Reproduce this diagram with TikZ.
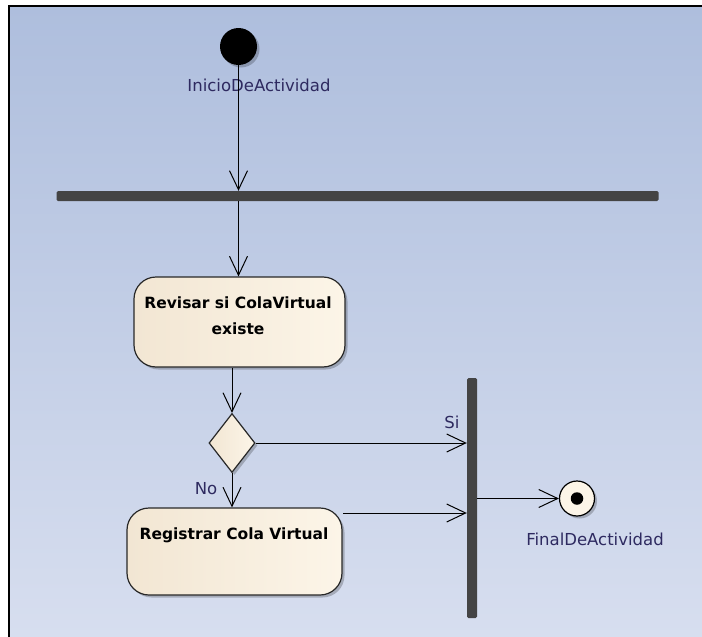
\documentclass[tikz,border=0pt]{standalone}
\usepackage{fontspec}
\setmainfont{DejaVu Sans}
\usetikzlibrary{arrows.meta,shapes.geometric,shadows}

\definecolor{bgtop}{RGB}{174,190,221}
\definecolor{bgbot}{RGB}{215,222,239}
\definecolor{barcol}{RGB}{68,68,68}
\definecolor{creamL}{RGB}{242,230,211}
\definecolor{creamR}{RGB}{252,245,232}
\definecolor{labelcol}{RGB}{46,42,96}
\definecolor{edgecol}{RGB}{40,40,40}

\begin{document}
\begin{tikzpicture}[x=1pt,y=-1pt,
  flow/.style={draw=black, line width=1pt,
    -{Straight Barb[length=19pt,width=18pt,line width=1pt]}},
  shadowed/.style={drop shadow={shadow xshift=2.5pt, shadow yshift=-2.5pt,
    fill=black, opacity=0.22}},
  actbox/.style={rectangle, rounded corners=22pt, draw=edgecol, line width=1.2pt,
    left color=creamL, right color=creamR, inner sep=0pt, shadowed},
  acttext/.style={font=\fontsize{15.5}{26}\selectfont\bfseries, align=center,
    text=black, inner sep=0pt},
  bar/.style={rectangle, fill=barcol, draw=none, inner sep=0pt, rounded corners=1.5pt},
  lbl/.style={font=\fontsize{16.5}{20}\selectfont, text=labelcol, inner sep=0pt},
]
% canvas and frame
\useasboundingbox (0,0) rectangle (702,637);
\fill[white] (0,0) rectangle (702,637);
\shade[top color=bgtop, bottom color=bgbot] (9,6) rectangle (702,637);
\draw[line width=1.5pt] (9,637) -- (9,6) -- (702,6);

% initial node
\node[circle, fill=black, minimum size=37pt, inner sep=0pt, shadowed] (start) at (238.5,46.5) {};
\node[lbl] (startlbl) at (259,85) {InicioDeActividad};

% fork bar
\node[bar, minimum width=602pt, minimum height=10pt] (fork) at (357.5,196) {};

% first action
\node[actbox, minimum width=211pt, minimum height=90pt] (act1) at (239.5,322) {};
\node[acttext] (act1txt) at (238,316) {Revisar si ColaVirtual\\existe};

% decision
\node[diamond, draw=edgecol, line width=1.2pt, left color=creamL, right color=creamR,
  minimum width=46pt, minimum height=59pt, inner sep=0pt, shadowed] (dec) at (232,443) {};

% second action
\node[actbox, minimum width=215pt, minimum height=87pt] (act2) at (234.5,551.5) {};
\node[acttext] (act2txt) at (234,535) {Registrar Cola Virtual};
\coordinate (a2out) at (343,513);

% join bar
\node[bar, minimum width=10pt, minimum height=240pt] (join) at (472,498) {};

% final node
\node[circle, draw=black, line width=1.2pt, fill=creamR, minimum size=35pt,
  inner sep=0pt, shadowed] (final) at (577,498.5) {};
\node[circle, fill=black, minimum size=12.5pt, inner sep=0pt] (finaldot) at (final.center) {};
\node[lbl] (finallbl) at (595,539) {FinalDeActividad};

% connectors
\draw[flow] (start) -- (start |- fork.north);
\draw[flow] (fork.south -| start) -- (act1.north -| start);
\draw[flow] (act1.south -| dec) -- (dec.north);
\draw[flow] (dec.east) -- (dec.east -| join.west);
\node[lbl] (si) at (452,422) {Si};
\draw[flow] (dec.south) -- (dec.south |- act2.north);
\node[lbl] (no) at (206,489) {No};
\draw[flow] (a2out) -- (a2out -| join.west);
\draw[flow] (join.east |- final) -- (final.west);
\end{tikzpicture}
\end{document}
